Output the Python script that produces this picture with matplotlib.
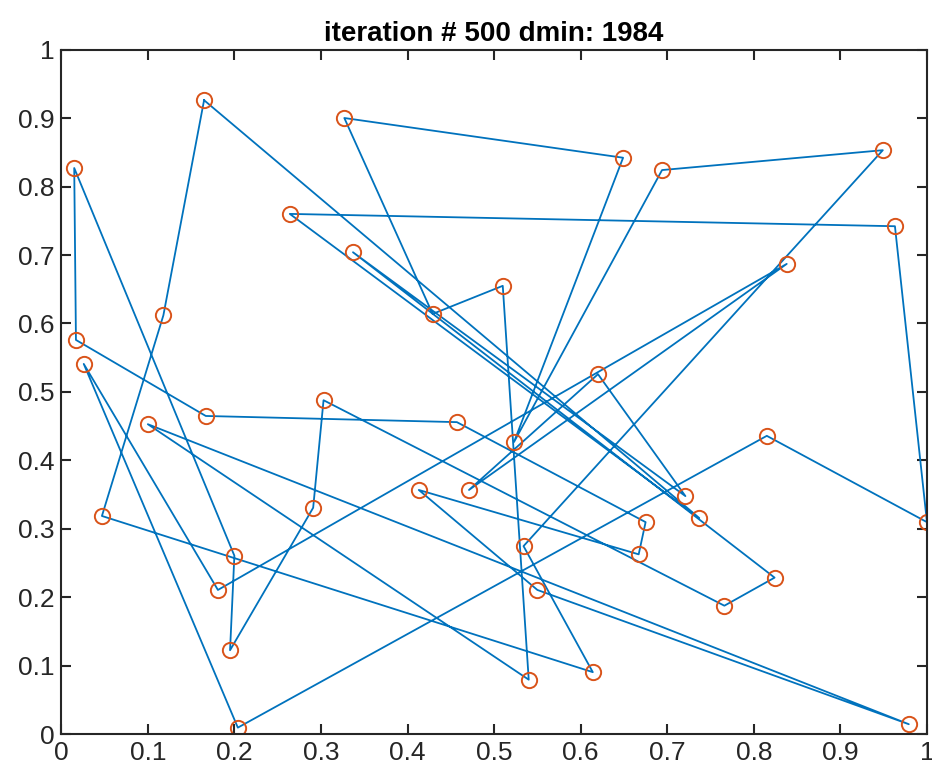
import matplotlib
matplotlib.use('Agg')
import matplotlib.pyplot as plt

plt.rcParams['font.family'] = ['Liberation Sans', 'DejaVu Sans']

# city coordinates, labelled by letter
cities = {
    'A': (0.165, 0.926), 'B': (0.015, 0.827), 'C': (0.327, 0.900), 'D': (0.264, 0.760),
    'E': (0.337, 0.704), 'F': (0.118, 0.612), 'G': (0.649, 0.842), 'H': (0.510, 0.655),
    'I': (0.429, 0.614), 'J': (0.694, 0.824), 'K': (0.949, 0.853), 'L': (0.963, 0.742),
    'M': (0.838, 0.687), 'N': (0.017, 0.576), 'O': (0.026, 0.541), 'P': (0.167, 0.465),
    'Q': (0.303, 0.488), 'R': (0.100, 0.453), 'S': (0.047, 0.319), 'T': (0.291, 0.331),
    'U': (0.620, 0.526), 'V': (0.457, 0.456), 'W': (0.523, 0.427), 'X': (0.413, 0.357),
    'Y': (0.471, 0.357), 'Z': (0.815, 0.436), 'AA': (0.721, 0.348), 'AB': (0.737, 0.316),
    'AC': (0.675, 0.310), 'AD': (1.000, 0.310), 'AE': (0.200, 0.261), 'AF': (0.181, 0.211),
    'AG': (0.195, 0.123), 'AH': (0.204, 0.010), 'AI': (0.534, 0.275), 'AJ': (0.550, 0.211),
    'AK': (0.540, 0.080), 'AL': (0.614, 0.091), 'AM': (0.667, 0.263), 'AN': (0.824, 0.229),
    'AO': (0.766, 0.188), 'AP': (0.979, 0.015),
}

route = ['A', 'F', 'S', 'AL', 'AI', 'K', 'J', 'W', 'G', 'C', 'I', 'H', 'AK', 'R',
         'AP', 'AJ', 'X', 'AM', 'AC', 'V', 'P', 'N', 'B', 'AE', 'AG', 'T', 'Q', 'AO',
         'AN', 'E', 'AA', 'U', 'Y', 'M', 'AF', 'O', 'AH', 'Z', 'AD', 'L', 'D', 'AB', 'A']

ticks = [0, 0.1, 0.2, 0.3, 0.4, 0.5, 0.6, 0.7, 0.8, 0.9, 1]
tick_labels = ['0', '0.1', '0.2', '0.3', '0.4', '0.5', '0.6', '0.7', '0.8', '0.9', '1']

xs = [cities[c][0] for c in route]
ys = [cities[c][1] for c in route]

fig = plt.figure(figsize=(9.32, 7.76), dpi=100)
ax = fig.add_axes([0.0657, 0.0535, 0.9289, 0.8827])

ax.plot(xs, ys, '-', color='#0072BD', lw=1.3)
ax.plot([p[0] for p in cities.values()], [p[1] for p in cities.values()], 'o',
        mfc='none', mec='#D95319', ms=11, mew=1.4, ls='none')

ax.set_xlim(0, 1)
ax.set_ylim(0, 1)
ax.set_xticks(ticks)
ax.set_xticklabels(tick_labels)
ax.set_yticks(ticks)
ax.set_yticklabels(tick_labels)
ax.tick_params(direction='in', length=7, width=1.5, labelsize=19, colors='#262626',
               top=True, right=True, pad=5)
for sp in ax.spines.values():
    sp.set_linewidth(1.5)
    sp.set_color('#262626')

ax.set_title('iteration # 500 dmin: 1984', fontsize=20, fontweight='bold', pad=6)

fig.savefig('out.png', dpi=100)
